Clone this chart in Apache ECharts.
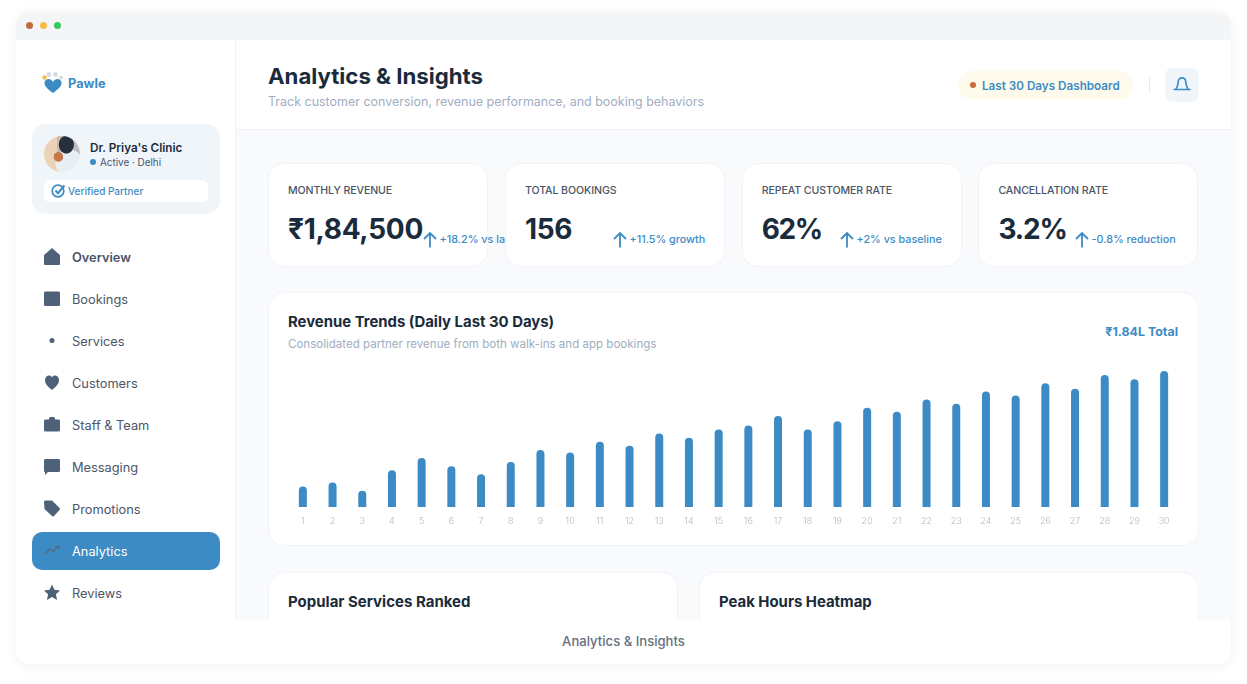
<!DOCTYPE html>
<html><head><meta charset="utf-8">
<script src="https://cdn.jsdelivr.net/npm/echarts@6/dist/echarts.min.js"></script>
<style>
html,body{margin:0;padding:0;width:1247px;height:684px;overflow:hidden;background:#fff;font-family:Inter,"Noto Sans",sans-serif;-webkit-font-smoothing:antialiased}
.a{position:absolute;white-space:nowrap}
#frame{position:absolute;left:16px;top:12px;width:1215px;height:652px;border-radius:14px;background:#fff;overflow:hidden;box-shadow:0 2px 14px rgba(0,0,0,.06)}
#stage{position:absolute;left:0;top:0;width:1247px;height:684px}
</style></head><body>
<div id="frame"></div>
<div id="stage"></div>
<script>
const dayLabels=['1','2','3','4','5','6','7','8','9','10','11','12','13','14','15','16','17','18','19','20','21','22','23','24','25','26','27','28','29','30'];
const revenueIndex=[15,18,12,27,36,30,24,33,42,40,48,45,54,51,57,60,67,57,63,73,70,79,76,85,82,91,87,97,94,100];
const navItems=['Overview','Bookings','Services','Customers','Staff & Team','Messaging','Promotions','Analytics','Reviews'];
const metricLabels=['MONTHLY REVENUE','TOTAL BOOKINGS','REPEAT CUSTOMER RATE','CANCELLATION RATE'];
const metricValues=['₹1,84,500','156','62%','3.2%'];
const metricDeltas=['+18.2% vs las','+11.5% growth','+2% vs baseline','-0.8% reduction'];

const BLUE='#3d8bc4', IC='#4f6178';
const s=document.getElementById('stage');
function box(x,y,w,h,css,html){const d=document.createElement('div');d.style.cssText=`position:absolute;left:${x}px;top:${y}px;width:${w}px;height:${h}px;${css||''}`;if(html)d.innerHTML=html;s.appendChild(d);return d}
function txt(x,cy,t,css,right){const d=document.createElement('div');d.className='a';d.textContent=t;d.style.cssText=`${right?'right:'+(1247-x)+'px':'left:'+x+'px'};top:${cy-10}px;height:20px;line-height:20px;${css||''}`;s.appendChild(d);return d}
function svg(x,y,w,h,inner){box(x,y,w,h,'',`<svg xmlns="http://www.w3.org/2000/svg" width="${w}" height="${h}" viewBox="0 0 ${w} ${h}" style="display:block">${inner}</svg>`)}

// window chrome
box(16,12,1215,28,'background:#f4f5f7;border-radius:14px 14px 0 0');
[[29,'#c46c40'],[43.5,'#fbbb45'],[57.5,'#3cc75c']].forEach(([x,c])=>box(x-3.5,22,7,7,`border-radius:50%;background:${c}`));
// main regions
box(236,130,995,490,'background:#f8fafc');
box(235,40,1,580,'background:#f1f3f6');
box(236,129,995,1,'background:#f0f2f5');

// logo
svg(40,70,26,26,`<circle cx="4.500" cy="7.500" r="2.200" fill="#fbbb45"/><circle cx="9" cy="4.500" r="2.400" fill="#d3dbe6"/><circle cx="15.500" cy="4.500" r="2.400" fill="#d3dbe6"/><circle cx="21" cy="7.500" r="2" fill="#d3dbe6"/><path d="M13 23C7 18.500 4.500 16 4.500 13 4.500 10.500 6.500 9 8.500 9c2 0 3.500 1 4.500 3 1-2 2.500-3 4.500-3 2 0 4 1.500 4 4 0 3-2.500 5.500-8.500 10z" fill="${BLUE}"/>`);
txt(68,83.500,'Pawle',`font-size:12.800px;font-weight:700;color:${BLUE}`);

// clinic card
box(32,124,188,90,'background:#f0f5fa;border-radius:14px');
box(44,136,36,36,'border-radius:50%;background:radial-gradient(ellipse 22% 26% at 62% 24%,#27313d 0 90%,transparent 100%),radial-gradient(circle at 40% 58%,#c8794a 0 15%,transparent 17%),radial-gradient(circle at 70% 76%,#e9eef3 0 36%,transparent 38%),linear-gradient(90deg,#ecd2b6 0 35%,#c9b8a8 36%,#b9c2cb)');
txt(90,148,"Dr. Priya's Clinic",'font-size:11.700px;font-weight:600;color:#1a2b3c');
box(90,159,6,6,`border-radius:50%;background:${BLUE}`);
txt(100,162,'Active · Delhi','font-size:9.900px;color:#4a5568');
box(44,180,164,22,'background:#fff;border-radius:6px');
svg(51,183,15,15,`<circle cx="7" cy="8" r="5.800" fill="none" stroke="${BLUE}" stroke-width="1.700"/><path d="M4.500 7.500l2.500 2.700L13.500 2.500" fill="none" stroke="${BLUE}" stroke-width="2"/>`);
txt(68,191.300,'Verified Partner',`font-size:10px;font-weight:500;color:${BLUE}`);

// nav
box(32,532,188,38,`background:${BLUE};border-radius:10px`);
const navIcons=[
 `<path d="M0 7L8 0l8 7v9a1 1 0 0 1-1 1H1a1 1 0 0 1-1-1z" fill="${IC}"/>`,
 `<rect x="0" y="1.500" width="16" height="14.500" rx="1.500" fill="${IC}"/>`,
 `<circle cx="8" cy="8.500" r="2.500" fill="${IC}"/>`,
 `<path d="M8 16C3 12 1 9.500 1 6 1 3.500 3 1.500 5 1.500c1.300 0 2.400.6 3 1.800.6-1.200 1.700-1.800 3-1.800 2 0 4 2 4 4.500 0 3.500-2 6-7 10z" fill="${IC}"/>`,
 `<path d="M5 3.500V2.500a1.500 1.500 0 0 1 1.500-1.500h3A1.500 1.500 0 0 1 11 2.500v1h3.500A1.500 1.500 0 0 1 16 5v9a1.500 1.500 0 0 1-1.500 1.500h-13A1.500 1.500 0 0 1 0 14V5a1.500 1.500 0 0 1 1.500-1.500z" fill="${IC}"/>`,
 `<path d="M1.500 1h13A1.500 1.500 0 0 1 16 2.500v10a1.500 1.500 0 0 1-1.500 1.500H4l-3 3v-3a1 1 0 0 1-1-1V2.500A1.500 1.500 0 0 1 1.500 1z" fill="${IC}"/>`,
 `<path d="M0 2a1.500 1.500 0 0 1 1.500-1.500H8l7.500 7.500a1.500 1.500 0 0 1 0 2l-5.500 6a1.500 1.500 0 0 1-2 0L.5 9z" fill="${IC}"/>`,
 `<path d="M1 12l5-5 3 2.500L15 4.500M11 4.500h4.500V8" fill="none" stroke="#5a6b7c" stroke-width="1.300"/>`,
 `<path d="M8 .5l2.400 5.300 5.800.6-4.300 3.900 1.200 5.700L8 13.100 2.900 16l1.200-5.700L-.2 6.400 5.600 5.800z" fill="${IC}"/>`
];
navItems.forEach((n,i)=>{
  const cy=257+42*i;
  svg(44,cy-9,16,18,navIcons[i]);
  txt(72,cy+1,n,`font-size:12.800px;color:${i==7?'#fff':'#4a5568'};font-weight:${i==0?600:400}`);
});

// header
txt(268,76,'Analytics & Insights','font-size:22.200px;font-weight:700;color:#1a2b3c');
txt(268,101.500,'Track customer conversion, revenue performance, and booking behaviors','font-size:12.480px;color:#a0aec0');
box(958,71,175,28,'background:#fefaec;border-radius:14px');
box(970,82,6,6,'border-radius:50%;background:#c96c3b');
txt(982,86,'Last 30 Days Dashboard',`font-size:11.700px;font-weight:600;color:${BLUE}`);
box(1149,77,1,16,'background:#e8ebef');
box(1165,68,34,34,'background:#f0f5fa;border-radius:8px');
svg(1173,75,18,17,`<path d="M.5 14.500h17M2.800 14.500c1.500-2.500 2.200-4.500 2.500-8a3.700 3.700 0 0 1 7.400 0c.3 3.500 1 5.500 2.500 8" fill="none" stroke="${BLUE}" stroke-width="1.700"/>`);

// metric cards
const mx=[268,505,741.700,978.400], ax=[422,612,839,1074], vs=[-.3,-.3,-1.400,-1.100];
metricLabels.forEach((l,i)=>{
  box(mx[i],163,220,103.500,'background:#fff;border:1px solid #f0f4f9;border-radius:16px;box-sizing:border-box');
  txt(mx[i]+20,190.500,l,'font-size:10.600px;font-weight:500;color:#4a5568;letter-spacing:-.1px');
  txt(mx[i]+20,228.800,metricValues[i],`font-size:28px;font-weight:700;color:#1a2b3c;letter-spacing:${vs[i]}px`);
  svg(ax[i],231,16,17,`<path d="M8 16.500V2M2 8l6-6 6 6" fill="none" stroke="${BLUE}" stroke-width="1.800"/>`);
  txt(ax[i]+17.500,240,metricDeltas[i],`font-size:10.800px;font-weight:500;color:${BLUE}`);
});

// chart card
box(268,292,930.500,254,'background:#fff;border:1px solid #f0f4f9;border-radius:16px;box-sizing:border-box');
txt(288,322,'Revenue Trends (Daily Last 30 Days)','font-size:14.900px;font-weight:700;color:#1a2b3c');
txt(288,344,'Consolidated partner revenue from both walk-ins and app bookings','font-size:11.560px;color:#a0aec0');
txt(1178,331.500,'₹1.84L Total',`font-size:12.400px;font-weight:700;color:${BLUE}`,true);
const chartEl=box(278,360,910,175,'');

// lower cards
box(268,572,410,80,'background:#fff;border:1px solid #f0f4f9;border-radius:16px;box-sizing:border-box');
box(699,572,499.500,80,'background:#fff;border:1px solid #f0f4f9;border-radius:16px;box-sizing:border-box');
txt(288,602,'Popular Services Ranked','font-size:15px;font-weight:700;color:#1a2b3c');
txt(719,602,'Peak Hours Heatmap','font-size:14.900px;font-weight:700;color:#1a2b3c');

// bottom caption
box(16,620,1215,44,'background:#fff;border-radius:0 0 14px 14px');
txt(623.500,640.500,'Analytics & Insights','font-size:13.100px;font-weight:500;color:#66727f;transform:translateX(-50%)');

const chart=echarts.init(chartEl,null,{renderer:'canvas'});
chart.setOption({
  animation:false,
  grid:{left:10,right:9,top:11,bottom:28,containLabel:false},
  xAxis:{type:'category',data:dayLabels,
    axisLine:{show:false},axisTick:{show:false},
    axisLabel:{interval:0,margin:10,fontSize:9,fontWeight:300,color:'#b0b9c6',fontFamily:'Inter'}},
  yAxis:{type:'value',min:0,max:100,show:false,splitLine:{show:false}},
  series:[{type:'bar',data:revenueIndex,barWidth:8,itemStyle:{color:BLUE,borderRadius:[4,4,0,0]}}]
});
</script>
</body></html>
